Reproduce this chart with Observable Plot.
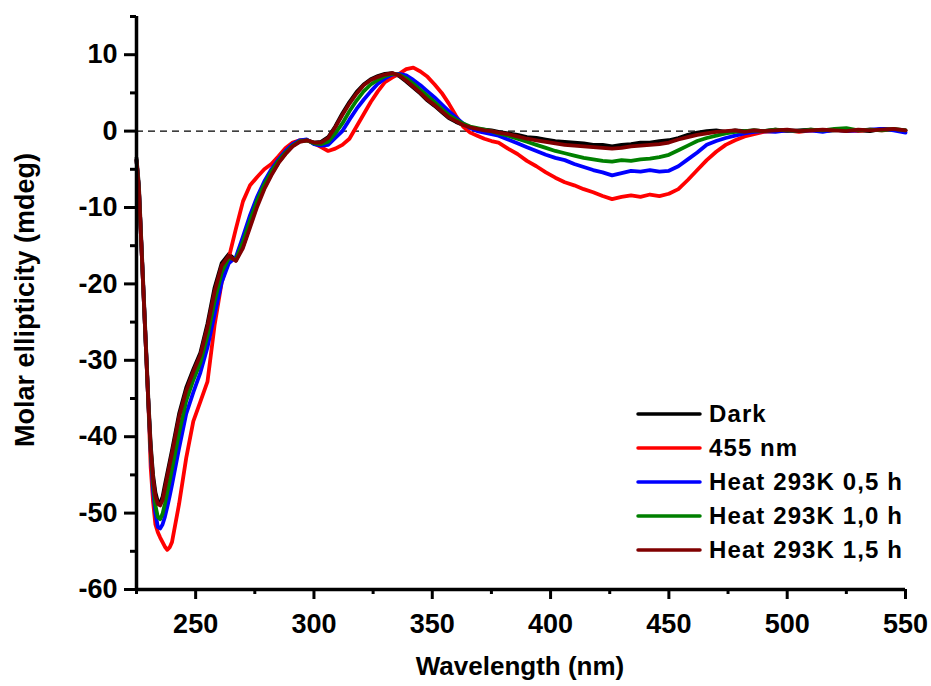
<!DOCTYPE html>
<html><head><meta charset="utf-8">
<script src="https://cdn.jsdelivr.net/npm/d3@7"></script>
<script src="https://cdn.jsdelivr.net/npm/@observablehq/plot@0.6"></script>
<style>
body{margin:0;background:#fff;}
#wrap{position:relative;width:931px;height:686px;font-family:"Liberation Sans",Arial,sans-serif;font-weight:bold;color:#000;}
#wrap > svg{position:absolute;left:0;top:0;}
.xtitle{position:absolute;left:270px;width:500px;top:651px;text-align:center;font-size:26px;line-height:30px;}
.ytitle{position:absolute;left:25px;top:300px;width:500px;height:30px;line-height:30px;margin-left:-250px;margin-top:-15px;text-align:center;font-size:27px;transform:rotate(-90deg);}
.legend{position:absolute;left:636px;top:397px;}
.legend .row{height:34px;display:flex;align-items:center;font-size:24px;letter-spacing:1.1px;white-space:nowrap;}
#wrap .legend svg{position:static;margin-right:7px;}
</style></head><body><div id="wrap"></div>
<script>
const wavelength = [225,226,227,228,229,230,231,232,233,234,235,236,237,238,239,240,
243,246,249,252,255,258,261,264,267,270,273,276,279,282,285,288,291,294,297,300,303,306,309,312,315,318,321,324,327,330,333,336,339,342,345,348,351,354,357,360,363,366,369,372,375,378,
382,386,390,394,398,402,406,410,414,418,422,426,430,434,438,442,446,450,454,458,462,466,470,474,478,482,486,490,
495,500,505,510,515,520,525,530,535,540,545,550];

const dark = [-3.5,-7,-14,-21,-28,-35,-41,-45,-47.3,-48.5,-48.7,-47.9,-46.3,-44.8,-43.3,-41.8,
-37,-33.6,-31.2,-29,-25.2,-20.5,-17.3,-16.1,-16.9,-15.1,-12.3,-9.6,-7.4,-5.6,-4.1,-2.9,-1.9,-1.3,-1.2,-1.5,-1.4,-0.8,0.6,2.3,3.8,5.1,6.1,6.8,7.2,7.5,7.6,7.2,6.5,5.7,4.9,4.0,3.3,2.5,1.7,1.2,0.8,0.5,0.3,0.2,0.1,-0.1,
-0.3,-0.5,-0.8,-0.9,-1.1,-1.3,-1.4,-1.5,-1.6,-1.8,-1.8,-2.0,-1.8,-1.7,-1.5,-1.5,-1.3,-1.2,-0.9,-0.5,-0.2,0.0,0.1,-0.1,0.1,0.0,0.1,0.0,
0.2,0.0,0.1,0.2,0.0,0.1,0.2,0.1,0.0,0.3,0.2,0.1];

const light455 = [-3.8,-7.5,-14.5,-21.5,-28.5,-35.5,-44,-48.5,-51.5,-52.5,-53.2,-53.8,-54.4,-54.8,-54.5,-53.8,
-48.8,-42.8,-38.0,-35.4,-32.8,-25.4,-19.8,-16.6,-12.8,-9.2,-7.1,-6.0,-5.0,-4.3,-3.3,-2.2,-1.5,-1.2,-1.2,-1.6,-2.1,-2.6,-2.3,-1.8,-1.0,0.6,2.2,3.8,5.2,6.4,7.0,7.5,8.1,8.3,7.8,7.1,6.1,5.0,3.6,2.0,0.6,-0.2,-0.6,-1.0,-1.3,-1.5,
-2.3,-3.0,-3.9,-4.6,-5.4,-6.1,-6.7,-7.1,-7.6,-8.0,-8.5,-8.9,-8.6,-8.4,-8.6,-8.3,-8.5,-8.2,-7.6,-6.4,-5.1,-3.8,-2.7,-1.8,-1.2,-0.7,-0.4,-0.1,
0.0,0.1,-0.1,0.1,0.0,0.2,0.1,0.0,0.2,0.1,0.2,0.0];

const heat05 = [-3.8,-7.5,-14.5,-21.5,-28.5,-35.5,-42,-47,-50,-51.8,-52,-51.5,-50.5,-49.2,-47.8,-46.3,
-41.5,-37.0,-34.2,-31.6,-28.3,-24.0,-19.8,-17.3,-16.5,-13.8,-11.0,-8.6,-6.6,-5.0,-3.7,-2.6,-1.7,-1.2,-1.1,-1.7,-1.9,-1.8,-0.9,0.0,1.5,2.9,4.1,5.2,6.2,6.9,7.4,7.5,7.3,6.7,6.0,5.2,4.4,3.5,2.6,1.8,1.0,0.4,0.0,-0.2,-0.4,-0.6,
-1.1,-1.6,-2.1,-2.6,-3.1,-3.5,-3.8,-4.3,-4.7,-5.1,-5.4,-5.8,-5.5,-5.2,-5.3,-5.1,-5.3,-5.2,-4.6,-3.7,-2.8,-1.8,-1.3,-0.9,-0.6,-0.3,-0.1,0.0,
-0.1,0.1,0.0,0.1,-0.1,0.2,0.0,0.1,0.2,0.3,0.1,-0.2];

const heat10 = [-3.8,-7.5,-14.5,-21.5,-28.5,-35.5,-41.8,-46,-49,-50.5,-50.8,-50.1,-48.8,-47.3,-45.8,-44.2,
-39.5,-35.3,-32.6,-30.3,-26.8,-22.3,-18.5,-16.6,-16.8,-14.5,-11.7,-9.1,-7.0,-5.3,-3.9,-2.8,-1.9,-1.3,-1.2,-1.6,-1.7,-1.4,-0.3,1.0,2.6,4.0,5.2,6.1,6.7,7.2,7.5,7.4,6.9,6.2,5.4,4.6,3.8,2.9,2.1,1.5,1.0,0.6,0.4,0.2,0.0,-0.3,
-0.6,-1.0,-1.4,-1.8,-2.2,-2.6,-2.9,-3.2,-3.5,-3.7,-3.9,-4.0,-3.8,-3.9,-3.7,-3.6,-3.4,-3.1,-2.5,-1.9,-1.3,-0.9,-0.6,-0.3,-0.1,0.0,0.1,0.0,
0.2,0.1,0.0,0.2,0.1,0.3,0.4,0.1,0.2,0.1,0.3,0.1];

const heat15 = [-3.8,-7.5,-14.5,-21.5,-28.5,-35.5,-41.5,-45.5,-47.8,-48.8,-49.0,-48.3,-46.8,-45.2,-43.7,-42.2,
-37.4,-34.0,-31.5,-29.3,-25.6,-21.0,-17.6,-16.3,-17.0,-15.3,-12.6,-9.9,-7.6,-5.8,-4.2,-3.0,-2.0,-1.4,-1.2,-1.5,-1.5,-0.9,0.5,2.1,3.6,4.9,6.0,6.7,7.1,7.4,7.6,7.3,6.6,5.8,5.0,4.1,3.4,2.6,1.8,1.3,0.8,0.5,0.3,0.1,0.0,-0.2,
-0.4,-0.7,-1.0,-1.2,-1.4,-1.6,-1.8,-1.9,-2.0,-2.1,-2.2,-2.3,-2.2,-2.0,-1.9,-1.8,-1.7,-1.5,-1.1,-0.8,-0.5,-0.3,-0.1,0.0,0.1,-0.1,0.1,0.0,
0.1,0.2,0.0,0.1,0.2,0.1,0.0,0.2,0.1,0.2,0.3,0.1];

const seriesNames = ["Dark","455 nm","Heat 293K 0,5 h","Heat 293K 1,0 h","Heat 293K 1,5 h"];
const seriesColors = ["#000000","#ff0000","#0000ff","#008000","#800000"];
const seriesValues = [dark, light455, heat05, heat10, heat15];
const xTicks = [250,300,350,400,450,500,550];
const xMinor = [225,275,325,375,425,475,525];
const yTicks = [-60,-50,-40,-30,-20,-10,0,10];
const yMinor = [-55,-45,-35,-25,-15,-5,5,15];
const xTitle = "Wavelength (nm)";
const yTitle = "Molar ellipticity (mdeg)";

const rows = [];
seriesValues.forEach((vals, i) => vals.forEach((v, j) => rows.push({wl: wavelength[j], val: v, series: seriesNames[i]})));

const fmt = d => String(d);
const chart = Plot.plot({
  width: 931, height: 686,
  marginLeft: 136, marginRight: 26, marginTop: 16, marginBottom: 97,
  x: {domain: [225, 550], label: null},
  y: {domain: [-60, 15], label: null},
  color: {domain: seriesNames, range: seriesColors},
  style: {fontFamily: '"Liberation Sans", Arial, sans-serif', fontWeight: "bold", background: "white", color: "black"},
  marks: [
    Plot.ruleY([0], {stroke: "black", strokeWidth: 1.2, strokeDasharray: "7,5"}),
    Plot.line(rows, {x: "wl", y: "val", z: "series", stroke: "series", strokeWidth: 3.8, strokeLinejoin: "round"}),
    Plot.axisX(xTicks, {tickSize: 10, tickPadding: 14, fontSize: 27, strokeWidth: 3, label: null, tickFormat: fmt}),
    Plot.axisX(xMinor, {tickSize: 5, strokeWidth: 3, label: null, tickFormat: () => ""}),
    Plot.axisY(yTicks, {tickSize: 12, tickPadding: 7, fontSize: 27, strokeWidth: 3, label: null, tickFormat: fmt}),
    Plot.axisY(yMinor, {tickSize: 6, strokeWidth: 3, label: null, tickFormat: () => ""}),
    Plot.ruleX([225], {stroke: "black", strokeWidth: 3.5}),
    Plot.ruleY([-60], {stroke: "black", strokeWidth: 3.5})
  ]
});

const wrap = document.getElementById("wrap");
wrap.appendChild(chart);

const xt = document.createElement("div"); xt.className = "xtitle"; xt.textContent = xTitle; wrap.appendChild(xt);
const yt = document.createElement("div"); yt.className = "ytitle"; yt.textContent = yTitle; wrap.appendChild(yt);

const leg = document.createElement("div"); leg.className = "legend";
seriesNames.forEach((name, i) => {
  const row = document.createElement("div"); row.className = "row";
  row.innerHTML = `<svg width="66" height="6"><line x1="2" y1="3" x2="64" y2="3" stroke="${seriesColors[i]}" stroke-width="3.5" stroke-linecap="round"/></svg><span>${name}</span>`;
  leg.appendChild(row);
});
wrap.appendChild(leg);
</script></body></html>
